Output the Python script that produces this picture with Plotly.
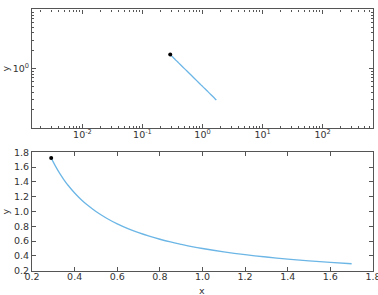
import plotly.graph_objects as go

x_vals = [0.29, 0.30, 0.31, 0.33, 0.35, 0.37, 0.40, 0.43, 0.46, 0.50, 0.55,
          0.60, 0.65, 0.70, 0.75, 0.80, 0.85, 0.90, 0.95, 1.00, 1.10, 1.20,
          1.30, 1.40, 1.50, 1.60, 1.70]
y_vals = [1.724, 1.667, 1.613, 1.515, 1.429, 1.351, 1.250, 1.163, 1.087, 1.000,
          0.909, 0.833, 0.769, 0.714, 0.667, 0.625, 0.588, 0.556, 0.526, 0.500,
          0.455, 0.417, 0.385, 0.357, 0.333, 0.313, 0.294]

log_x_ticks = [0.01, 0.1, 1, 10, 100]
log_x_text = ["10<sup>-2</sup>", "10<sup>-1</sup>", "10<sup>0</sup>", "10<sup>1</sup>", "10<sup>2</sup>"]
log_y_ticks = [1]
log_y_text = ["10<sup>0</sup>"]
lin_ticks = [0.2, 0.4, 0.6, 0.8, 1.0, 1.2, 1.4, 1.6, 1.8]
lin_text = ["0.2", "0.4", "0.6", "0.8", "1.0", "1.2", "1.4", "1.6", "1.8"]

line_color = "#6cb6e6"
axis_color = "#555555"
font = dict(family="DejaVu Sans", size=9.5, color="#333333")

minor_x = [m * 10 ** e for e in range(-3, 3) for m in range(2, 10)]
minor_y = [m * 10 ** e for e in range(-2, 1) for m in range(2, 10)]

fig = go.Figure()
for xa, ya in (("x", "y"), ("x2", "y2")):
    fig.add_trace(go.Scatter(x=x_vals, y=y_vals, mode="lines",
                             line=dict(color=line_color, width=1.3, shape="spline"),
                             xaxis=xa, yaxis=ya, showlegend=False))
    fig.add_trace(go.Scatter(x=x_vals[:1], y=y_vals[:1], mode="markers",
                             marker=dict(color="black", size=4),
                             xaxis=xa, yaxis=ya, showlegend=False))

common = dict(showline=True, linecolor=axis_color, linewidth=1.2, mirror="ticks",
              ticks="inside", tickcolor=axis_color, ticklen=4, showgrid=False,
              zeroline=False, tickfont=font, automargin=False)

fig.update_layout(
    width=378, height=295,
    margin=dict(l=0, r=0, t=0, b=0),
    paper_bgcolor="white", plot_bgcolor="white",
    font=font,
    xaxis=dict(type="log", range=[-2.84, 2.84], domain=[0.0847, 0.9868],
               anchor="y", tickvals=log_x_ticks, ticktext=log_x_text,
               ticklabelstandoff=-2,
               minor=dict(tickvals=minor_x, ticks="inside", ticklen=2, tickcolor=axis_color),
               **common),
    yaxis=dict(type="log", range=[-1.0, 1.0], domain=[0.567, 0.968],
               anchor="x", tickvals=log_y_ticks, ticktext=log_y_text,
               minor=dict(tickvals=minor_y, ticks="inside", ticklen=2, tickcolor=axis_color),
               **common),
    xaxis2=dict(range=[0.2, 1.8002], domain=[0.0847, 0.9868], anchor="y2",
                tickvals=lin_ticks, ticktext=lin_text, ticklabelstandoff=-3,
                ticklabeloverflow="allow", **common),
    yaxis2=dict(range=[0.2, 1.8], domain=[0.0824, 0.4837], anchor="x2",
                tickvals=lin_ticks, ticktext=lin_text, **common),
    annotations=[
        dict(text="y", xref="paper", yref="paper", x=5 / 378, y=1 - 68.5 / 295,
             xanchor="center", yanchor="middle",
             showarrow=False, textangle=-90, font=font),
        dict(text="y", xref="paper", yref="paper", x=5 / 378, y=1 - 211.5 / 295,
             xanchor="center", yanchor="middle",
             showarrow=False, textangle=-90, font=font),
        dict(text="x", xref="paper", yref="paper", x=202 / 378, y=1 - 290 / 295,
             showarrow=False, font=font, xanchor="center", yanchor="middle"),
    ],
)

fig.write_html("out.html")
